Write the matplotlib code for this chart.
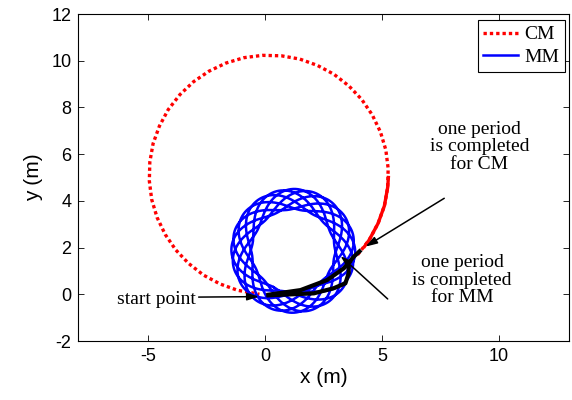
import numpy as np
import matplotlib
matplotlib.use("Agg")
import matplotlib.pyplot as plt

plt.rcParams["axes.unicode_minus"] = False

# CM trajectory (counter-clockwise loop)
cm_x = [3.95, 4.45, 4.83, 5.10, 5.24, 5.26, 5.16, 4.93, 4.58, 4.13, 3.58, 2.94,
        2.23, 1.48, 0.69, -0.12, -0.91, -1.68, -2.41, -3.07, -3.65, -4.15, -4.53,
        -4.80, -4.94, -4.96, -4.86, -4.63, -4.28, -3.83, -3.28, -2.64, -1.93,
        -1.18, -0.39, -0.25]
cm_y = [1.69, 2.33, 3.04, 3.79, 4.58, 5.39, 6.18, 6.95, 7.68, 8.34, 8.92, 9.42,
        9.80, 10.07, 10.21, 10.23, 10.13, 9.90, 9.55, 9.10, 8.55, 7.91, 7.20,
        6.45, 5.66, 4.85, 4.06, 3.29, 2.56, 1.90, 1.32, 0.82, 0.44,
        0.17, 0.03, 0.00]
# part of the CM loop that is run over twice (looks solid)
cm_overlap_x = [4.25, 4.45, 4.83, 5.10, 5.24, 5.27]
cm_overlap_y = [2.05, 2.33, 3.04, 3.79, 4.58, 5.00]

# black start-up path near the start point
start_upper_x = [4.10, 3.79, 3.36, 2.65, 1.51, 0.05]
start_upper_y = [1.90, 1.61, 1.11, 0.61, 0.18, -0.03]
start_lower_x = [0.05, 2.08, 2.93, 3.43, 3.57, 3.57, 3.50]
start_lower_y = [-0.05, 0.04, 0.26, 0.47, 0.90, 1.18, 1.33]

# MM rosette
mm_center = (1.20, 1.86)
mm_mean_radius = 2.21
mm_amplitude = 0.44
mm_lobes = 20
mm_turns = 7

x_ticks = [-5, 0, 5, 10]
y_ticks = [-2, 0, 2, 4, 6, 8, 10, 12]

theta = np.linspace(0, 2 * np.pi * mm_turns, 8000)
rad = mm_mean_radius + mm_amplitude * np.cos(mm_lobes / mm_turns * theta + np.pi)
mm_x = mm_center[0] + rad * np.cos(theta - 2.07)
mm_y = mm_center[1] + rad * np.sin(theta - 2.07)

fig = plt.figure(figsize=(5.72, 4.0), dpi=100)
ax = fig.add_axes([0.1369, 0.1475, 0.8579, 0.8175])

ax.plot(cm_x, cm_y, color="red", lw=2.4, linestyle=(0, (1, 0.9)), label="CM", zorder=2)
ax.plot(mm_x, mm_y, color="blue", lw=1.8, label="MM", zorder=3)
ax.plot(cm_overlap_x, cm_overlap_y, color="red", lw=2.4, zorder=4)
ax.plot(start_upper_x, start_upper_y, color="black", lw=3, solid_capstyle="butt", zorder=5)
ax.plot(start_lower_x, start_lower_y, color="black", lw=3, solid_capstyle="butt", zorder=5)

serif = "Liberation Serif"
arrow = dict(arrowstyle="-|>,head_length=0.7,head_width=0.22", color="black",
             lw=1.1, shrinkA=0, shrinkB=0)
ax.annotate("", xy=(-0.27, -0.10), xytext=(-2.85, -0.12), arrowprops=arrow, zorder=6)
ax.annotate("", xy=(4.29, 2.04), xytext=(7.66, 4.11), arrowprops=arrow, zorder=6)
ax.annotate("", xy=(3.22, 1.64), xytext=(5.24, -0.20), arrowprops=arrow, zorder=6)

ax.text(-2.95, -0.22, "start point", family=serif, fontsize=14, ha="right", va="center")
ax.text(9.17, 6.32, "one period\nis completed\nfor CM", family=serif, fontsize=14,
        ha="center", va="center", multialignment="center", linespacing=1.05)
ax.text(8.42, 0.61, "one period\nis completed\nfor MM", family=serif, fontsize=14,
        ha="center", va="center", multialignment="center", linespacing=1.05)

ax.set_xlim(-8, 13)
ax.set_ylim(-2, 12)
ax.set_xticks(x_ticks)
ax.set_yticks(y_ticks)
ax.tick_params(direction="in", top=True, right=True, length=4, width=0.6,
               labelsize=13, pad=5)
for lab in ax.get_xticklabels() + ax.get_yticklabels():
    lab.set_family("Liberation Sans")
for sp in ax.spines.values():
    sp.set_linewidth(0.8)

ax.set_xlabel("x (m)", family="Liberation Sans", fontsize=15, labelpad=2)
ax.set_ylabel("y (m)", family="Liberation Sans", fontsize=15, labelpad=6)

leg = ax.legend(loc="upper right", bbox_to_anchor=(0.992, 0.982), borderaxespad=0,
                prop={"family": serif, "size": 14}, fancybox=False, framealpha=1,
                edgecolor="black", handlelength=1.8, handletextpad=0.3,
                labelspacing=0.25, borderpad=0.3)
leg.get_frame().set_linewidth(0.8)

fig.savefig("out.png", dpi=100)
